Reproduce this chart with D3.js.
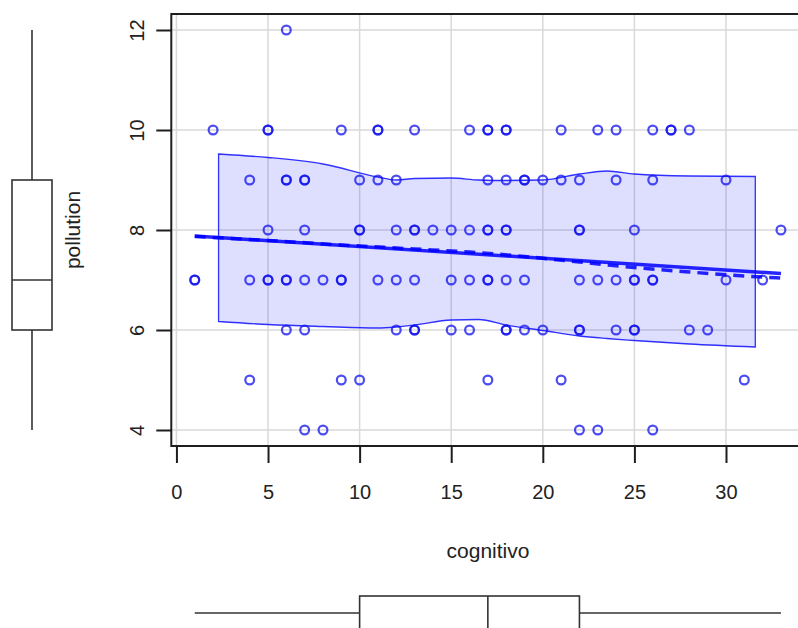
<!DOCTYPE html>
<html>
<head>
<meta charset="utf-8">
<script src="https://cdn.jsdelivr.net/npm/d3@7"></script>
<style>
  body { margin: 0; background: #fff; }
  svg { display: block; font-family: "Liberation Sans", Arial, sans-serif; }
</style>
</head>
<body>
<svg id="chart" width="798" height="628"></svg>
<script>
// pollution levels and the cognitivo scores read per row (duplicates = overlapping points)
var levels = [4, 5, 6, 7, 8, 9, 10, 12];
var row4  = [7, 8, 22, 23, 26];
var row5  = [4, 9, 10, 17, 21, 31];
var row6  = [6, 7, 12, 13, 13, 15, 16, 18, 18, 19, 20, 22, 22, 24, 25, 25, 28, 29];
var row7  = [1, 1, 4, 5, 5, 6, 6, 7, 8, 9, 9, 11, 12, 13, 15, 16, 17, 17, 18, 19, 22, 23, 24, 25, 25, 26, 26, 30, 32];
var row8  = [5, 7, 10, 10, 12, 13, 13, 14, 15, 16, 17, 17, 18, 18, 22, 22, 25, 33];
var row9  = [4, 6, 6, 7, 7, 10, 11, 12, 17, 18, 19, 19, 20, 21, 22, 24, 26, 30];
var row10 = [2, 5, 5, 9, 11, 11, 13, 16, 17, 17, 18, 18, 21, 23, 24, 26, 27, 27, 28];
var row12 = [6];
var rows = [row4, row5, row6, row7, row8, row9, row10, row12];

// linear fit (solid) and smoother (dashed)
var fitX = [1, 33];
var fitY = [7.88, 7.13];
var smoothX = [1, 5, 9, 13, 16, 19, 22, 25, 28, 31, 33];
var smoothY = [7.87, 7.79, 7.70, 7.62, 7.56, 7.47, 7.36, 7.25, 7.16, 7.08, 7.04];

// spread band
var bandX     = [2.3, 5, 8, 11, 12, 13, 15, 16.5, 18, 20, 22, 23.5, 25, 28, 31.6];
var bandUpper = [9.52, 9.45, 9.32, 9.06, 9.0, 9.03, 9.04, 9.0, 8.99, 9.0, 9.12, 9.18, 9.12, 9.08, 9.07];
var bandLower = [6.17, 6.11, 6.07, 6.04, 6.06, 6.1, 6.2, 6.21, 6.1, 5.99, 5.88, 5.83, 5.79, 5.72, 5.66];

// marginal boxplots: min, q1, median, q3, max
var boxPollution = [4, 6, 7, 9, 12];
var boxCognitivo = [1, 10, 17, 22, 33];

var xTicks = [0, 5, 10, 15, 20, 25, 30];
var yTicks = [4, 6, 8, 10, 12];

var svg = d3.select("#chart");
var blue = "#0000ff";

var x = d3.scaleLinear().domain([-0.28, 34.28]).range([171.3, 804.4]);
var y = d3.scaleLinear().domain([3.68, 12.32]).range([446, 14]);

// grid
svg.append("g").selectAll("line").data(xTicks).join("line")
  .attr("x1", d => x(d)).attr("x2", d => x(d))
  .attr("y1", 14).attr("y2", 446)
  .attr("stroke", "#d9d9d9").attr("stroke-width", 1.5);
svg.append("g").selectAll("line").data(yTicks).join("line")
  .attr("x1", 171.3).attr("x2", 804.4)
  .attr("y1", d => y(d)).attr("y2", d => y(d))
  .attr("stroke", "#d9d9d9").attr("stroke-width", 1.5);

// band
var band = bandX.map((v, i) => ({x: v, lo: bandLower[i], hi: bandUpper[i]}));
svg.append("path").datum(band)
  .attr("d", d3.area().x(d => x(d.x)).y0(d => y(d.lo)).y1(d => y(d.hi)).curve(d3.curveMonotoneX))
  .attr("fill", blue).attr("fill-opacity", 0.13)
  .attr("stroke", blue).attr("stroke-opacity", 0.8).attr("stroke-width", 1.3);

// points
var pts = [];
rows.forEach(function(r, i) {
  r.forEach(function(c) { pts.push({x: c, y: levels[i]}); });
});
svg.append("g").selectAll("circle").data(pts).join("circle")
  .attr("cx", d => x(d.x)).attr("cy", d => y(d.y)).attr("r", 4.4)
  .attr("fill", "none").attr("stroke", "#1010ee").attr("stroke-opacity", 0.75).attr("stroke-width", 2.2);

// lines
var line = d3.line().x(d => x(d[0])).y(d => y(d[1]));
svg.append("path").datum(smoothX.map((v, i) => [v, smoothY[i]]))
  .attr("d", d3.line().x(d => x(d[0])).y(d => y(d[1])).curve(d3.curveMonotoneX)).attr("fill", "none")
  .attr("stroke", blue).attr("stroke-opacity", 0.85).attr("stroke-width", 3.5)
  .attr("stroke-dasharray", "11,7");
svg.append("path").datum(fitX.map((v, i) => [v, fitY[i]]))
  .attr("d", line).attr("fill", "none")
  .attr("stroke", blue).attr("stroke-opacity", 0.85).attr("stroke-width", 3.5);

// frame
svg.append("rect").attr("x", 171.3).attr("y", 14).attr("width", 633).attr("height", 432)
  .attr("fill", "none").attr("stroke", "#1e1e1e").attr("stroke-width", 2);

// axes
var xAxis = svg.append("g").attr("transform", "translate(0,446)")
  .call(d3.axisBottom(x).tickValues(xTicks).tickSize(17).tickPadding(22).tickSizeOuter(0));
var yAxis = svg.append("g").attr("transform", "translate(171.3,0)")
  .call(d3.axisLeft(y).tickValues(yTicks).tickSize(15).tickSizeOuter(0));
[xAxis, yAxis].forEach(function(a) {
  a.select(".domain").remove();
  a.selectAll(".tick line").attr("stroke", "#1e1e1e").attr("stroke-width", 2);
  a.selectAll("text").attr("font-size", 20).attr("fill", "#222").attr("font-family", "Liberation Sans, Arial, sans-serif");
});
yAxis.selectAll("text").attr("x", null).attr("dy", null)
  .attr("text-anchor", "middle").attr("transform", "translate(-27,0) rotate(-90)");

// axis titles
svg.append("text").attr("x", 488).attr("y", 558).attr("text-anchor", "middle")
  .attr("font-size", 21).attr("fill", "#222").text("cognitivo");
svg.append("text").attr("transform", "translate(80,230) rotate(-90)").attr("text-anchor", "middle")
  .attr("font-size", 21).attr("fill", "#222").text("pollution");

// left boxplot (pollution)
var bx = 32, bw = 20;
var lb = svg.append("g").attr("stroke", "#333").attr("stroke-width", 1.6).attr("fill", "none");
lb.append("line").attr("x1", bx).attr("x2", bx).attr("y1", y(boxPollution[0])).attr("y2", y(boxPollution[1]));
lb.append("line").attr("x1", bx).attr("x2", bx).attr("y1", y(boxPollution[3])).attr("y2", y(boxPollution[4]));
lb.append("rect").attr("x", bx - bw).attr("width", 2 * bw)
  .attr("y", y(boxPollution[3])).attr("height", y(boxPollution[1]) - y(boxPollution[3]));
lb.append("line").attr("x1", bx - bw).attr("x2", bx + bw).attr("y1", y(boxPollution[2])).attr("y2", y(boxPollution[2]));

// bottom boxplot (cognitivo)
var by = 613, bh = 17;
var bb = svg.append("g").attr("stroke", "#333").attr("stroke-width", 1.6).attr("fill", "none");
bb.append("line").attr("y1", by).attr("y2", by).attr("x1", x(boxCognitivo[0])).attr("x2", x(boxCognitivo[1]));
bb.append("line").attr("y1", by).attr("y2", by).attr("x1", x(boxCognitivo[3])).attr("x2", x(boxCognitivo[4]));
bb.append("rect").attr("y", by - bh).attr("height", 2 * bh)
  .attr("x", x(boxCognitivo[1])).attr("width", x(boxCognitivo[3]) - x(boxCognitivo[1]));
bb.append("line").attr("y1", by - bh).attr("y2", by + bh).attr("x1", x(boxCognitivo[2])).attr("x2", x(boxCognitivo[2]));
</script>
</body>
</html>
